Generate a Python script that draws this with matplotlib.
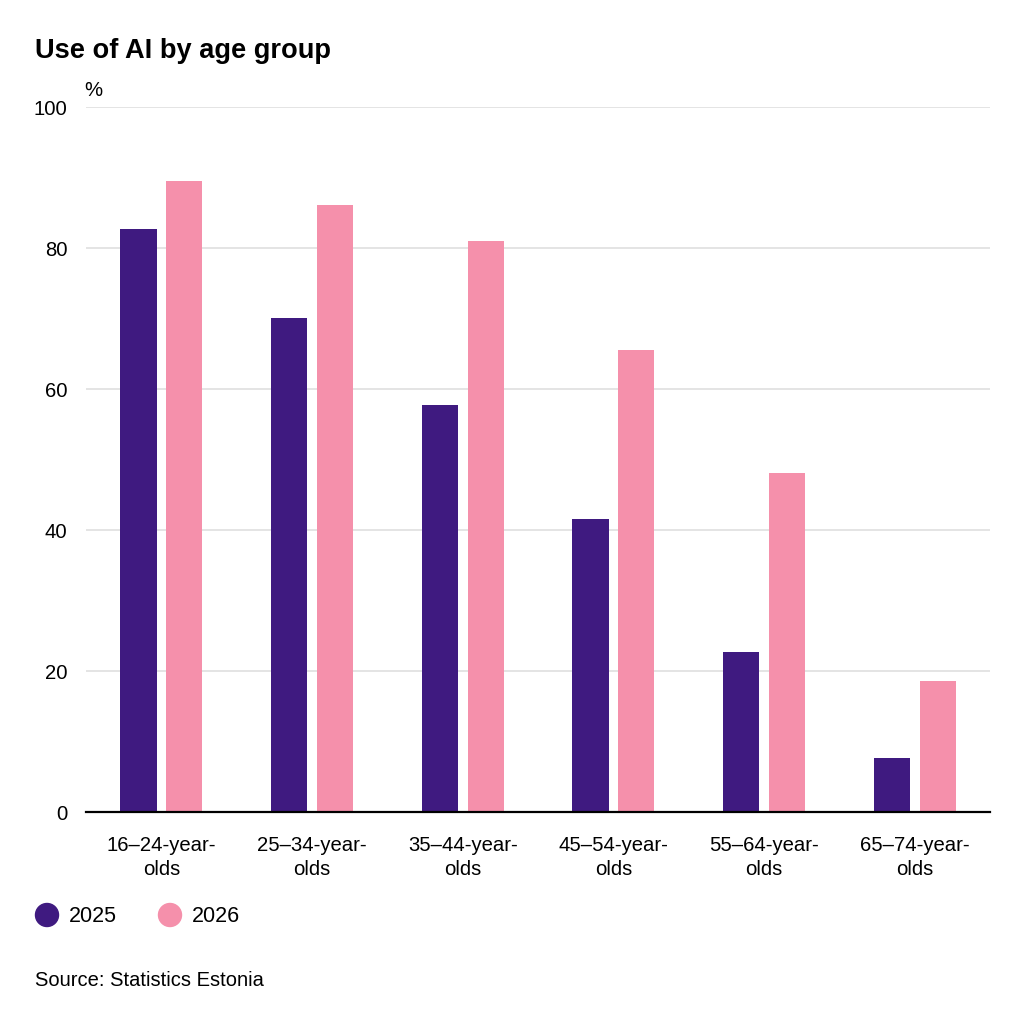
import numpy as np
import matplotlib.pyplot as plt

plt.rcParams['font.family'] = ['Liberation Sans', 'DejaVu Sans']

groups = ["16–24-year-\nolds", "25–34-year-\nolds", "35–44-year-\nolds",
          "45–54-year-\nolds", "55–64-year-\nolds", "65–74-year-\nolds"]
years = ["2025", "2026"]
use_2025 = [82.7, 70.1, 57.7, 41.6, 22.7, 7.7]
use_2026 = [89.5, 86.1, 81.0, 65.5, 48.1, 18.6]

c_2025 = "#3F1A80"
c_2026 = "#F590AB"

fig = plt.figure(figsize=(10.24, 10.24), dpi=100)
ax = fig.add_axes([0.084, 0.207, 0.883, 0.6885])

x = np.arange(len(groups))
w = 0.24
off = 0.152
ax.bar(x - off, use_2025, w, color=c_2025, zorder=3)
ax.bar(x + off, use_2026, w, color=c_2026, zorder=3)

ax.set_xlim(-0.5, len(groups) - 0.5)
ax.set_ylim(0, 100)
ax.set_yticks([0, 20, 40, 60, 80, 100])
ax.set_xticks(x)
ax.set_xticklabels(groups, fontsize=14.6, linespacing=1.38)
ax.tick_params(axis='y', length=0, labelsize=14.6, pad=13.5)
ax.tick_params(axis='x', length=0, pad=17)
ax.grid(axis='y', color='#DDDDDD', linewidth=1.1, zorder=0)
for s in ['top', 'right', 'left']:
    ax.spines[s].set_visible(False)
ax.spines['bottom'].set_linewidth(1.6)
ax.spines['bottom'].set_zorder(4)

fig.text(35 / 1024, 1 - 51 / 1024, "Use of AI by age group", fontsize=19.6,
         fontweight='bold', va='center', ha='left')
fig.text(84 / 1024, 1 - 90 / 1024, "%", fontsize=14.6, va='center', ha='left')

# legend
for i, (yr, col) in enumerate(zip(years, [c_2025, c_2026])):
    cx = [47, 170][i] / 1024
    fig.patches.append(plt.Circle((cx, 1 - 915 / 1024), 11.5 / 1024, color=col,
                                  transform=fig.transFigure, figure=fig))
    fig.text(cx + 22 / 1024, 1 - 916 / 1024, yr, fontsize=15.5, va='center', ha='left')

fig.text(35 / 1024, 1 - 980 / 1024, "Source: Statistics Estonia", fontsize=14.5,
         va='center', ha='left')

fig.savefig("out.png", dpi=100, facecolor='white')
